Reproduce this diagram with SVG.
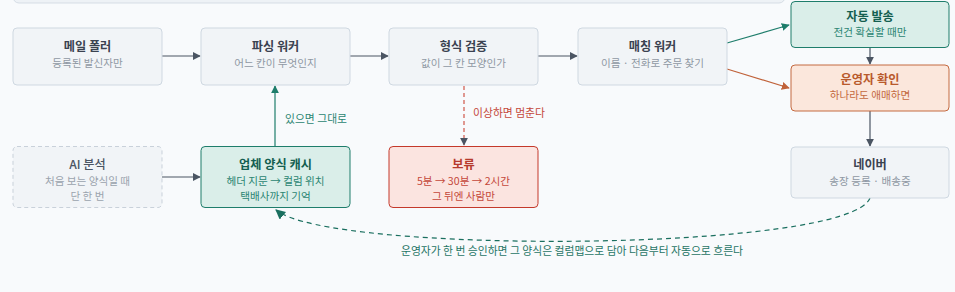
<svg xmlns="http://www.w3.org/2000/svg" width="955" height="292" viewBox="0 0 955 292">
<style>
text{font-family:"Noto Sans CJK KR","Noto Sans",sans-serif;text-anchor:middle}
.t{font-size:12.2px;font-weight:700}
.s{font-size:10.6px}
.n rect{fill:#f1f4f7;stroke:#cfd8e1;stroke-width:1}
.n .t{fill:#3a4250}.n .s{fill:#8f98a3}
.g rect{fill:#daeee9;stroke:#1e7d6b;stroke-width:1}
.g .t{fill:#145f50}.g .s{fill:#2b8572}
.o rect{fill:#fbe7dc;stroke:#c46a40;stroke-width:1}
.o .t{fill:#b95a2c}.o .s{fill:#c46a40}
.r rect{fill:#fbe4e0;stroke:#c4392b;stroke-width:1}
.r .t{fill:#b63a2d}.r .s{fill:#c4473a}
.d rect{fill:#f1f4f7;stroke:#c9d1da;stroke-dasharray:4 3}
.d .t{fill:#4b5563;font-weight:500}.d .s{fill:#9aa3ad}
.e{fill:none;stroke-width:1.2}
.lbl{font-size:10.8px}
</style>
<defs>
<marker id="ad" viewBox="0 0 10 10" refX="9" refY="5" markerWidth="8" markerHeight="8" orient="auto" markerUnits="userSpaceOnUse"><path d="M0,0L10,5L0,10z" fill="#4b5563"/></marker>
<marker id="ag" viewBox="0 0 10 10" refX="9" refY="5" markerWidth="8" markerHeight="8" orient="auto" markerUnits="userSpaceOnUse"><path d="M0,0L10,5L0,10z" fill="#1e7d6b"/></marker>
<marker id="ao" viewBox="0 0 10 10" refX="9" refY="5" markerWidth="8" markerHeight="8" orient="auto" markerUnits="userSpaceOnUse"><path d="M0,0L10,5L0,10z" fill="#c0623a"/></marker>
<marker id="ag2" viewBox="0 0 10 10" refX="9" refY="5" markerWidth="10" markerHeight="10" orient="auto" markerUnits="userSpaceOnUse"><path d="M0,0L10,5L0,10z" fill="#1a6f5f"/></marker>
</defs>
<rect width="955" height="292" fill="#f8fafc"/>
<rect x="13" y="-40" width="772" height="43" rx="6" fill="#eef2f6" stroke="#d6dde5"/>

<g id="connectors">
<path class="e" d="M162,56H200" stroke="#4b5563" marker-end="url(#ad)"/>
<path class="e" d="M350,56H388" stroke="#4b5563" marker-end="url(#ad)"/>
<path class="e" d="M538,56H577" stroke="#4b5563" marker-end="url(#ad)"/>
<path class="e" d="M727,43L789,25" stroke="#1e7d6b" marker-end="url(#ag)"/>
<path class="e" d="M727,69L789,88" stroke="#c0623a" marker-end="url(#ao)"/>
<path class="e" d="M870,47V64" stroke="#4b5563" marker-end="url(#ad)"/>
<path class="e" d="M870,111V146" stroke="#4b5563" marker-end="url(#ad)"/>
<path class="e" d="M162,177H200" stroke="#4b5563" marker-end="url(#ad)"/>
<path class="e" d="M275,146V86" stroke="#1e7d6b" marker-end="url(#ag)"/>
<text class="lbl" x="316" y="123" fill="#2b8572">있으면 그대로</text>
<path class="e" d="M464,86V145" stroke="#d0574a" stroke-dasharray="4 3" marker-end="url(#ad)"/>
<text class="lbl" x="509" y="117" fill="#c4473a">이상하면 멈춘다</text>
<path class="e" d="M870,198C850,252 330,255 276,210" stroke="#1a6f5f" stroke-dasharray="5 4" marker-end="url(#ag2)"/>
<text class="lbl" x="572" y="255" fill="#1f7565">운영자가 한 번 승인하면 그 양식은 컬럼맵으로 담아 다음부터 자동으로 흐른다</text>
</g>

<g id="mail-poller" class="n"><rect x="13" y="28" width="149" height="57" rx="4"/><text class="t" x="87.5" y="51">메일 폴러</text><text class="s" x="87.5" y="67">등록된 발신자만</text></g>
<g id="parsing-worker" class="n"><rect x="201" y="28" width="149" height="57" rx="4"/><text class="t" x="275.5" y="51">파싱 워커</text><text class="s" x="275.5" y="67">어느 칸이 무엇인지</text></g>
<g id="format-check" class="n"><rect x="389" y="28" width="149" height="57" rx="4"/><text class="t" x="463.5" y="51">형식 검증</text><text class="s" x="463.5" y="67">값이 그 칸 모양인가</text></g>
<g id="matching-worker" class="n"><rect x="578" y="28" width="149" height="57" rx="4"/><text class="t" x="652.5" y="51">매칭 워커</text><text class="s" x="652.5" y="67">이름 · 전화로 주문 찾기</text></g>
<g id="auto-send" class="g"><rect x="791" y="1.5" width="158" height="46" rx="4"/><text class="t" x="870" y="21">자동 발송</text><text class="s" x="870" y="36">전건 확실할 때만</text></g>
<g id="operator-check" class="o"><rect x="791" y="65" width="158" height="46" rx="4"/><text class="t" x="870" y="84">운영자 확인</text><text class="s" x="870" y="99">하나라도 애매하면</text></g>
<g id="ai-analysis" class="d"><rect x="13" y="146.5" width="149" height="61" rx="4"/><text class="t" x="87.5" y="169">AI 분석</text><text class="s" x="87.5" y="185">처음 보는 양식일 때</text><text class="s" x="87.5" y="200">단 한 번</text></g>
<g id="vendor-cache" class="g"><rect x="201" y="146.5" width="149" height="61" rx="4" stroke-width="1.3"/><text class="t" x="275.5" y="169">업체 양식 캐시</text><text class="s" x="275.5" y="185">헤더 지문 → 컬럼 위치</text><text class="s" x="275.5" y="200">택배사까지 기억</text></g>
<g id="hold" class="r"><rect x="389" y="146.5" width="149" height="61" rx="4"/><text class="t" x="463.5" y="169">보류</text><text class="s" x="463.5" y="185">5분 → 30분 → 2시간</text><text class="s" x="463.5" y="200">그 뒤엔 사람만</text></g>
<g id="naver" class="n"><rect x="791" y="147" width="158" height="51" rx="4"/><text class="t" x="870" y="169">네이버</text><text class="s" x="870" y="185">송장 등록 · 배송중</text></g>
</svg>
